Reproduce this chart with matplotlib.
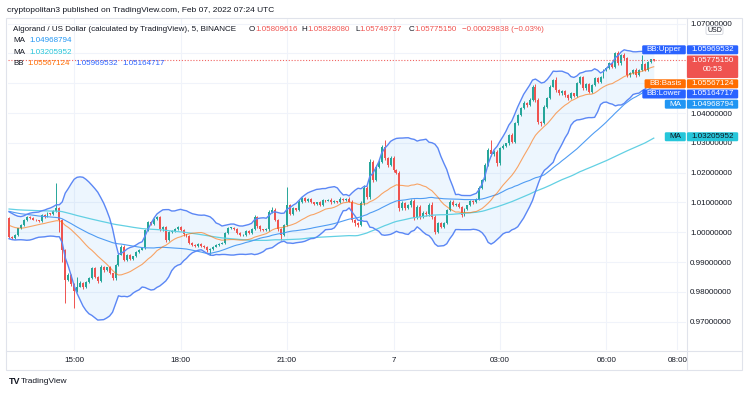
import matplotlib
matplotlib.use("Agg")
import matplotlib.pyplot as plt
from matplotlib.patches import FancyBboxPatch, Rectangle
import numpy as np
import pandas as pd

plt.rcParams['font.family'] = ['Liberation Sans', 'DejaVu Sans']

FS = 5.8
DARK = '#131722'
UP = '#26a69a'
DOWN = '#ef5350'

# ALGO/USD 5 min closes, 13:10 (index 0) to 07:20 (index 218)
closes = [
    0.9985, 0.9981, 0.9991, 1.0013, 1.0024, 1.0041, 1.0052, 1.0047, 1.0042, 1.0040,
    1.0038, 1.0058, 1.0052, 1.0064, 1.0060, 1.0072, 1.0082, 1.0040, 0.9940, 0.9840,
    0.9857, 0.9825, 0.9802, 0.9818, 0.9830, 0.9815, 0.9834, 0.9847, 0.9880, 0.9850,
    0.9835, 0.9885, 0.9872, 0.9882, 0.9862, 0.9845, 0.9890, 0.9925, 0.9952, 0.9907,
    0.9925, 0.9910, 0.9920, 0.9935, 0.9942, 0.9948, 1.0008, 1.0034, 1.0028, 1.0044,
    1.0050, 1.0010, 1.0018, 0.9975, 1.0000, 1.0005, 1.0012, 1.0018, 1.0008, 0.9993,
    0.9988, 0.9964, 0.9958, 0.9955, 0.9962, 0.9955, 0.9952, 0.9940, 0.9945, 0.9952,
    0.9958, 0.9962, 0.9965, 0.9997, 1.0014, 1.0015, 1.0012, 0.9997, 0.9990, 0.9992,
    1.0005, 0.9998, 1.0010, 1.0050, 1.0020, 1.0010, 1.0008, 1.0010, 1.0069, 1.0075,
    1.0042, 1.0010, 0.9991, 1.0025, 1.0090, 1.0062, 1.0080, 1.0075, 1.0103, 1.0115,
    1.0105, 1.0112, 1.0100, 1.0095, 1.0100, 1.0092, 1.0108, 1.0106, 1.0110, 1.0100,
    1.0104, 1.0100, 1.0113, 1.0108, 1.0112, 1.0103, 1.0041, 1.0030, 1.0024, 1.0098,
    1.0150, 1.0119, 1.0237, 1.0176, 1.0220, 1.0237, 1.0287, 1.0248, 1.0226, 1.0248,
    1.0209, 1.0200, 1.0080, 1.0098, 1.0082, 1.0090, 1.0105, 1.0048, 1.0086, 1.0052,
    1.0066, 1.0060, 1.0092, 1.0052, 1.0002, 1.0030, 1.0019, 1.0030, 1.0075, 1.0103,
    1.0092, 1.0096, 1.0086, 1.0058, 1.0078, 1.0090, 1.0104, 1.0100, 1.0112, 1.0149,
    1.0176, 1.0226, 1.0276, 1.0262, 1.0270, 1.0232, 1.0282, 1.0290, 1.0298, 1.0326,
    1.0304, 1.0366, 1.0394, 1.0417, 1.0434, 1.0428, 1.0445, 1.0489, 1.0444, 1.0371,
    1.0366, 1.0421, 1.0450, 1.0489, 1.0511, 1.0477, 1.0466, 1.0474, 1.0460, 1.0450,
    1.0466, 1.0458, 1.0500, 1.0520, 1.0483, 1.0498, 1.0472, 1.0495, 1.0517, 1.0505,
    1.0522, 1.0545, 1.0552, 1.0567, 1.0555, 1.0600, 1.0567, 1.0595, 1.0584, 1.0527,
    1.0534, 1.0545, 1.0527, 1.0545, 1.0565, 1.0545, 1.0572, 1.05809616, 1.05775150,
]

# closes before the first visible candle, only used to start the averages
history = [
    1.0072, 1.0078, 1.0084, 1.0090, 1.0086, 1.0080, 1.0076, 1.0082, 1.0088, 1.0094,
    1.0090, 1.0084, 1.0079, 1.0083, 1.0089, 1.0092, 1.0087, 1.0081, 1.0078, 1.0084,
    1.0090, 1.0096, 1.0091, 1.0085, 1.0080, 1.0076, 1.0082, 1.0088, 1.0093, 1.0089,
    1.0084, 1.0080, 1.0085, 1.0091, 1.0095, 1.0090, 1.0084, 1.0079, 1.0083, 1.0088,
    1.0092, 1.0087, 1.0082, 1.0078, 1.0083, 1.0089, 1.0094, 1.0090, 1.0085, 1.0088,
    1.0090, 1.0095, 1.0102, 1.0108, 1.0112, 1.0105, 1.0098, 1.0104, 1.0110, 1.0115,
    1.0108, 1.0100, 1.0096, 1.0102, 1.0110, 1.0118, 1.0112, 1.0105, 1.0100, 1.0106,
    1.0112, 1.0108, 1.0102, 1.0098, 1.0094, 1.0100, 1.0096, 1.0090, 1.0086, 1.0080,
    1.0075, 1.0068, 1.0058, 1.0046, 1.0034, 1.0022, 1.0012, 1.0003, 0.9996, 0.9992,
    1.0000, 1.0010, 1.0018, 1.0008, 1.0020, 1.0030, 1.0038, 1.0042, 1.0045, 1.0047,
]

# wick length beyond the body, in 0.0001
wick_up = [
    3, 2, 3, 2, 3, 2, 4, 2, 3, 2,
    2, 3, 2, 3, 2, 3, 83, 4, 3, 5,
    6, 4, 5, 32, 5, 3, 4, 3, 4, 3,
    2, 4, 3, 3, 4, 2, 3, 4, 5, 4,
    3, 3, 2, 3, 2, 3, 4, 5, 3, 4,
    5, 4, 3, 4, 3, 2, 3, 3, 4, 3,
    2, 3, 4, 2, 3, 2, 3, 2, 3, 2,
    3, 2, 3, 4, 5, 3, 2, 4, 3, 2,
    3, 4, 3, 8, 5, 3, 2, 3, 5, 9,
    6, 4, 3, 4, 63, 5, 4, 3, 5, 4,
    4, 3, 3, 2, 3, 4, 3, 2, 3, 4,
    3, 2, 4, 3, 3, 5, 6, 4, 3, 8,
    10, 6, 8, 7, 5, 4, 6, 23, 6, 7,
    8, 5, 6, 7, 5, 6, 8, 6, 5, 6,
    4, 5, 6, 8, 6, 5, 4, 3, 4, 5,
    4, 3, 5, 3, 4, 3, 3, 4, 3, 5,
    4, 5, 6, 34, 5, 6, 4, 5, 3, 4,
    6, 5, 4, 4, 5, 3, 4, 6, 10, 5,
    4, 5, 4, 4, 5, 10, 5, 4, 4, 3,
    4, 3, 5, 4, 6, 4, 3, 4, 3, 4,
    4, 3, 4, 3, 5, 6, 8, 4, 5, 3,
    4, 3, 5, 4, 30, 4, 3, 2, 2,
]
wick_down = [
    5, 3, 2, 3, 2, 3, 2, 3, 2, 3,
    3, 2, 3, 2, 3, 2, 3, 38, 40, 78,
    5, 6, 56, 4, 3, 5, 3, 4, 3, 4,
    5, 3, 4, 3, 3, 5, 4, 3, 2, 4,
    3, 4, 3, 2, 3, 3, 4, 3, 4, 3,
    3, 5, 4, 6, 3, 2, 3, 3, 4, 4,
    3, 4, 3, 4, 3, 3, 4, 5, 15, 3,
    2, 3, 2, 3, 3, 2, 3, 4, 4, 3,
    3, 3, 4, 3, 5, 4, 3, 2, 4, 3,
    5, 6, 16, 3, 4, 5, 3, 4, 3, 4,
    4, 3, 3, 4, 3, 4, 3, 3, 2, 4,
    3, 3, 2, 4, 3, 3, 8, 10, 6, 4,
    5, 8, 6, 7, 4, 5, 6, 7, 8, 5,
    6, 5, 8, 6, 7, 5, 6, 8, 5, 6,
    5, 6, 4, 6, 8, 5, 6, 4, 3, 4,
    4, 3, 4, 6, 3, 4, 3, 4, 3, 4,
    4, 5, 4, 6, 5, 8, 5, 4, 3, 4,
    6, 4, 5, 4, 3, 6, 4, 5, 6, 7,
    8, 4, 5, 4, 3, 5, 6, 4, 5, 5,
    4, 5, 3, 4, 6, 4, 5, 3, 4, 4,
    3, 4, 3, 4, 5, 3, 6, 4, 5, 6,
    5, 4, 6, 4, 3, 5, 3, 4, 3,
]

first_open = 1.0047

time_ticks = [22, 58, 94, 130, 166, 202, 226]
time_labels = ['15:00', '18:00', '21:00', '7', '03:00', '06:00', '08:00']
price_ticks = [0.97, 0.98, 0.99, 1.00, 1.01, 1.02, 1.03, 1.04, 1.05, 1.06, 1.07]
# 1.05 and 1.06 sit fully under the price labels
hidden_ticks = [1.05, 1.06]

last_close = 1.05775150
ohlc_names = ['O', 'H', 'L', 'C']
ohlc_values = ['1.05809616', '1.05828080', '1.05749737', '1.05775150']
change_text = '\u22120.00029838 (\u22120.03%)'
ma_fast_last = 1.04968794
ma_slow_last = 1.03205952
bb_basis_last = 1.05567124
bb_upper_last = 1.05969532
bb_lower_last = 1.05164717
countdown = '00:53'

# indicators: BB(20, 2), MA 50, MA 100
series = pd.Series(history + closes)
n0 = len(history)
mid = series.rolling(20).mean()
sd = series.rolling(20).std(ddof=0)
bb_up = (mid + 2 * sd).values[n0:]
bb_lo = (mid - 2 * sd).values[n0:]
bb_mid = mid.values[n0:]
ma_fast = series.rolling(50).mean().values[n0:]
ma_slow = series.rolling(100).mean().values[n0:]

c = np.array(closes)
o = np.array([first_open] + closes[:-1])
hi = np.maximum(o, c) + np.array(wick_up) * 1e-4
lo = np.minimum(o, c) - np.array(wick_down) * 1e-4
x = np.arange(len(c))
cols = np.where(c >= o, UP, DOWN)

fig = plt.figure(figsize=(7.5, 3.94), dpi=100)
fig.patch.set_facecolor('white')
ax = fig.add_axes([8 / 750, 1 - 350 / 394, 678 / 750, 332 / 394])
ax.set_xlim(-0.35, 228.9)
ax.set_ylim(0.96050, 1.07191)

ax.fill_between(x, bb_lo, bb_up, color='#2196f3', alpha=0.08, lw=0, zorder=1)
ax.vlines(x, lo, hi, colors=cols, lw=0.7, zorder=2)
ax.bar(x, np.maximum(np.abs(c - o), 0.00025), bottom=np.minimum(o, c), width=0.66,
       color=cols, linewidth=0, zorder=2.1)
ax.plot(x, ma_slow, color='#62d0e3', lw=0.9, zorder=3)
ax.plot(x, ma_fast, color='#4f9cf3', lw=0.8, zorder=3)
ax.plot(x, bb_mid, color='#ff6d00', lw=0.8, alpha=0.6, zorder=3)
ax.plot(x, bb_up, color='#5b87f5', lw=1.0, zorder=3)
ax.plot(x, bb_lo, color='#5b87f5', lw=1.0, zorder=3)
ax.axhline(last_close, color=DOWN, lw=0.8, ls=(0, (1, 1.6)), alpha=0.9, zorder=4)

ax.set_xticks(time_ticks, time_labels)
ax.yaxis.tick_right()
ax.set_yticks(price_ticks, ['' if v in hidden_ticks else f'{v:.8f}' for v in price_ticks])
ax.tick_params(axis='y', length=0, pad=2.9, labelsize=FS, labelcolor=DARK)
ax.tick_params(axis='x', length=0, pad=5, labelsize=FS, labelcolor=DARK)
ax.grid(True, color='#f0f3fa', lw=0.8)
ax.set_axisbelow(True)
for s in ax.spines.values():
    s.set_visible(False)

# overlay in pixel units for the frame, legend and price labels
ov = fig.add_axes([0, 0, 1, 1])
ov.set_xlim(0, 750)
ov.set_ylim(394, 0)
ov.axis('off')
ov.patch.set_visible(False)
renderer = fig.canvas.get_renderer()


def txt(xp, yp, s, color=DARK, **kw):
    kw.setdefault('fontsize', FS)
    return ov.text(xp, yp, s, color=color, va='center', zorder=6, **kw)


def to_px(v):
    return fig.get_figheight() * fig.dpi - ax.transData.transform((0, v))[1]


ov.add_patch(Rectangle((687, 351), 54.5, 18, fc='white', ec='none', zorder=1))
ov.add_patch(Rectangle((5.5, 17.5), 736.5, 352, fill=False, ec='#e0e3eb', lw=0.8, zorder=4))
ov.plot([5.5, 742], [350.5, 350.5], color='#e0e3eb', lw=0.8, zorder=4)
ov.plot([686.5, 686.5], [17.5, 369.5], color='#e0e3eb', lw=0.8, zorder=4)

txt(7, 10, 'cryptopolitan3 published on TradingView.com, Feb 07, 2022 07:24 UTC', fontsize=6)

txt(13, 29.3, 'Algorand / US Dollar (calculated by TradingView), 5, BINANCE')
for k, (nm, val) in enumerate(zip(ohlc_names, ohlc_values)):
    x0 = 248.5 + 53.3 * k
    t = txt(x0, 29.3, nm)
    w = t.get_window_extent(renderer).width
    txt(x0 + w + 0.3, 29.3, val, color=DOWN)
txt(461.5, 29.3, change_text, color=DOWN)

txt(13, 40.7, 'MA')
txt(29, 40.7, f'{ma_fast_last:.8f}', color='#2196f3')
txt(13, 52, 'MA')
txt(29, 52, f'{ma_slow_last:.8f}', color='#26c6da')
txt(13, 63.3, 'BB')
txt(27.7, 63.3, f'{bb_basis_last:.8f}', color='#ff6d00')
txt(75, 63.3, f'{bb_upper_last:.8f}', color='#2962ff')
txt(122.7, 63.3, f'{bb_lower_last:.8f}', color='#2962ff')


def rbox(x0, top, w, h, color, **kw):
    ov.add_patch(FancyBboxPatch((x0, top), w, h, boxstyle='round,pad=0,rounding_size=1.3',
                                fc=color, ec='none', zorder=5, **kw))


def side_label(yc, tag, value, color, tc):
    h = 9.0
    rbox(686.9, yc - h / 2, 51.3, h, color)
    txt(712.5, yc, value, color=tc, ha='center')
    t = txt(0, yc, tag, color=tc, ha='center')
    w = t.get_window_extent(renderer).width + 9
    rbox(685.8 - w, yc - h / 2, w, h, color)
    t.set_x(685.8 - w / 2)


# price box, then the other labels pushed away from it
p_px = to_px(last_close)
p_top, p_bot = p_px - 4.7, p_px + 17.9
rbox(686.9, p_top, 51.3, p_bot - p_top, DOWN)
txt(712.5, p_px + 0.6, f'{last_close:.8f}', color='white', ha='center')
txt(712.5, p_px + 9.6, countdown, color='white', ha='center')

above = [('BB:Upper', bb_upper_last, '#2962ff', 'white')]
below = [('BB:Basis', bb_basis_last, '#ff6d00', 'white'),
         ('BB:Lower', bb_lower_last, '#2962ff', 'white'),
         ('MA', ma_fast_last, '#2196f3', 'white'),
         ('MA', ma_slow_last, '#26c6da', DARK)]
edge = p_top
for nm, v, col, tc in above:
    yc = min(to_px(v), edge - 1.2 - 4.5)
    edge = yc - 4.5
    side_label(yc, nm, f'{v:.8f}', col, tc)
edge = p_bot
for nm, v, col, tc in below:
    yc = max(to_px(v), edge + 1.2 + 4.5)
    edge = yc + 4.5
    side_label(yc, nm, f'{v:.8f}', col, tc)

ov.add_patch(FancyBboxPatch((706, 26), 17, 8.5, boxstyle='round,pad=0,rounding_size=1.5',
                            fc='white', ec='#d1d4dc', lw=0.6, zorder=5))
txt(714.5, 30.3, 'USD', ha='center', fontsize=5)

txt(8.5, 381.5, 'TV', fontsize=6.5, weight='bold')
txt(20.5, 381.5, 'TradingView', fontsize=6)

fig.savefig('out.png', dpi=100)
